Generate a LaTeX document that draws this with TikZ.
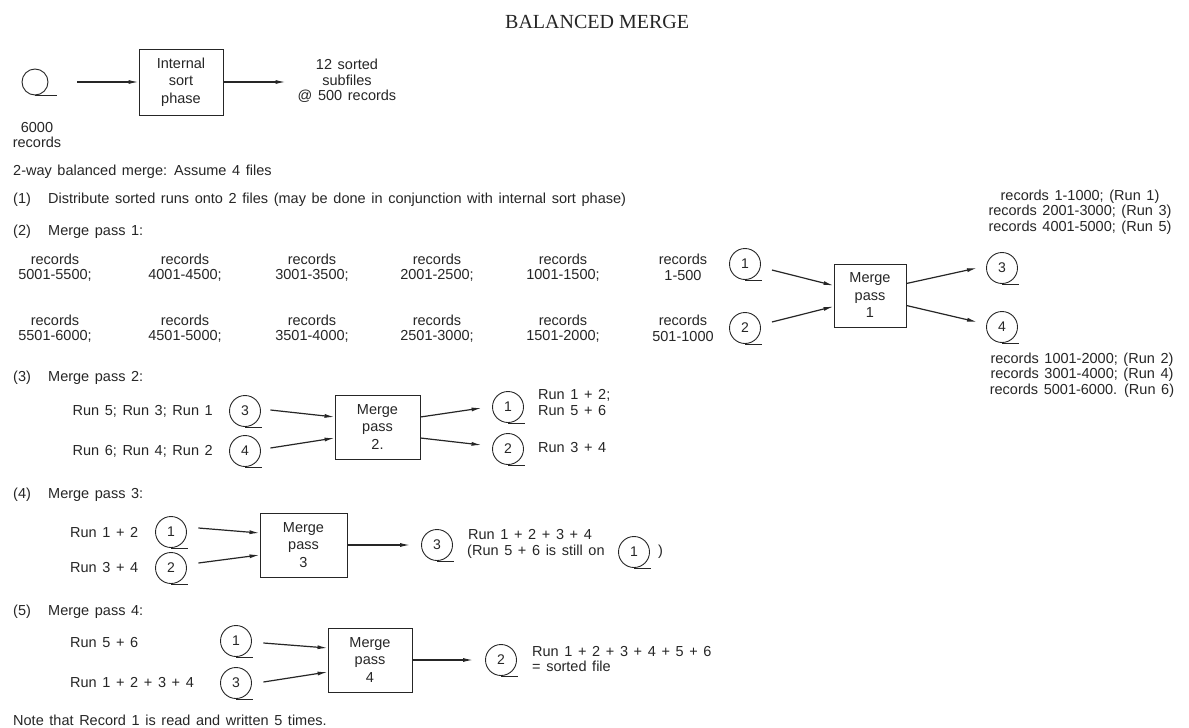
\documentclass[tikz,border=0pt]{standalone}
\usepackage{fontspec}
\setmainfont[WordSpace=1.4]{Liberation Sans}
\newfontfamily\titlefont{Liberation Serif}
\usetikzlibrary{arrows.meta}
\definecolor{ink}{gray}{0.15}
\tikzset{
  txt/.style={font=\fontsize{14.5}{15.5}\selectfont, inner sep=0pt, text=ink},
  mtxt/.style={txt, align=center},
  ltxt/.style={txt, align=left},
  reel/.style={circle, draw=ink, line width=0.9pt, minimum size=31pt, inner sep=0pt,
               font=\fontsize{14}{16}\selectfont, text=ink},
  proc/.style={draw=ink, line width=0.9pt, align=center, inner sep=0pt, text=ink,
               font=\fontsize{14.5}{17.5}\selectfont},
  flow/.style={draw=ink, line width=1.2pt, -{Latex[length=10pt,width=4pt]}},
  tail/.style={draw=ink, line width=0.9pt},
}
\newcommand{\reeltail}[1]{\draw[tail] (#1.south) -- ++(17,0);}
\begin{document}
\begin{tikzpicture}[x=1pt,y=-1pt]
\useasboundingbox (0,0) rectangle (1189,728);
\fill[white] (0,0) rectangle (1189,728);

% title
\node[anchor=west, inner sep=0pt, text=ink, font=\titlefont\fontsize{20}{22}\selectfont] (title) at (505,22) {BALANCED MERGE};

% ---------- internal sort phase ----------
\node[reel, minimum size=26pt] (r0) at (35,82) {};
\draw[tail] (r0.south) -- ++(22,0);
\node[mtxt] (n6000) at (37,135) {6000\\records};
\node[proc, minimum width=84pt, minimum height=66pt] (b0) at (181,82) {Internal\\sort\\phase};
\node[mtxt] (sub) at (347,81) {12 sorted\\subfiles\\@ 500 records};
\draw[flow] ([xshift=29pt]r0.east) -- (b0.west);
\draw[flow] (b0.east) -- ([xshift=-12pt]sub.west |- b0.east);

\node[txt, anchor=west] (intro) at (13,172) {2-way balanced merge: Assume 4 files};
\node[txt, anchor=west] (h1) at (13,200) {(1)};
\node[txt, anchor=west] (h1t) at (48,200) {Distribute sorted runs onto 2 files (may be done in conjunction with internal sort phase)};
\node[txt, anchor=west] (h2) at (13,232) {(2)};
\node[txt, anchor=west] (h2t) at (48,232) {Merge pass 1:};

% ---------- merge pass 1 ----------
\node[mtxt] (c1a) at (55,267.5) {records\\5001-5500;};
\node[mtxt] (c2a) at (185,267.5) {records\\4001-4500;};
\node[mtxt] (c3a) at (312,267.5) {records\\3001-3500;};
\node[mtxt] (c4a) at (437,267.5) {records\\2001-2500;};
\node[mtxt] (c5a) at (563,267.5) {records\\1001-1500;};
\node[mtxt] (c6a) at (683,267.5) {records\\1-500};
\node[mtxt] (c1b) at (55,328.5) {records\\5501-6000;};
\node[mtxt] (c2b) at (185,328.5) {records\\4501-5000;};
\node[mtxt] (c3b) at (312,328.5) {records\\3501-4000;};
\node[mtxt] (c4b) at (437,328.5) {records\\2501-3000;};
\node[mtxt] (c5b) at (563,328.5) {records\\1501-2000;};
\node[mtxt] (c6b) at (683,328.5) {records\\501-1000};

\node[reel] (r1) at (745,264) {1}; \reeltail{r1}
\node[reel] (r2) at (745,328) {2}; \reeltail{r2}
\node[proc, minimum width=72pt, minimum height=63pt] (p1) at (870,295.5) {Merge\\pass\\1};
\node[reel] (r3) at (1002,268) {3}; \reeltail{r3}
\node[reel] (r4) at (1002,327) {4}; \reeltail{r4}
\draw[flow] ([xshift=11pt,yshift=-6pt]r1.east) -- ([yshift=10pt]p1.west);
\draw[flow] ([xshift=11pt,yshift=6pt]r2.east) -- ([yshift=-11pt]p1.west);
\draw[flow] ([yshift=12pt]p1.east) -- ([xshift=-9pt]r3.west);
\draw[flow] ([yshift=-10pt]p1.east) -- ([xshift=-9pt,yshift=5pt]r4.west);
\node[mtxt] (o3) at (1080,212) {records 1-1000; (Run 1)\\records 2001-3000; (Run 3)\\records 4001-5000; (Run 5)};
\node[mtxt] (o4) at (1082,375) {records 1001-2000; (Run 2)\\records 3001-4000; (Run 4)\\records 5001-6000. (Run 6)};

% ---------- merge pass 2 ----------
\node[txt, anchor=west] (h3) at (13,378) {(3)};
\node[txt, anchor=west] (h3t) at (48,378) {Merge pass 2:};
\node[txt, anchor=east] (i3) at (213,411) {Run 5; Run 3; Run 1};
\node[txt, anchor=east] (i4) at (213,451) {Run 6; Run 4; Run 2};
\node[reel] (q3) at (245,411) {3}; \reeltail{q3}
\node[reel] (q4) at (245,451) {4}; \reeltail{q4}
\node[proc, minimum width=85pt, minimum height=64pt] (p2) at (377.5,427) {Merge\\pass\\2.};
\node[reel] (q1) at (508,407) {1}; \reeltail{q1}
\node[reel] (q2) at (508,449) {2}; \reeltail{q2}
\draw[flow] ([xshift=9.5pt,yshift=1pt]q3.east) -- ([yshift=10pt]p2.west);
\draw[flow] ([xshift=9.5pt,yshift=3pt]q4.east) -- ([yshift=-11pt]p2.west);
\draw[flow] ([yshift=10pt]p2.east) -- ([xshift=-10.5pt,yshift=-1pt]q1.west);
\draw[flow] ([yshift=-11pt]p2.east) -- ([xshift=-10.5pt,yshift=4pt]q2.west);
\node[ltxt, anchor=west] (u1) at (538,402.5) {Run 1 + 2;\\Run 5 + 6};
\node[txt, anchor=west] (u2) at (538,448) {Run 3 + 4};

% ---------- merge pass 3 ----------
\node[txt, anchor=west] (h4) at (13,495) {(4)};
\node[txt, anchor=west] (h4t) at (48,495) {Merge pass 3:};
\node[txt, anchor=west] (j1) at (70,533) {Run 1 + 2};
\node[txt, anchor=west] (j2) at (70,568) {Run 3 + 4};
\node[reel] (s1) at (171,532) {1}; \reeltail{s1}
\node[reel] (s2) at (171,568) {2}; \reeltail{s2}
\node[proc, minimum width=87pt, minimum height=64pt] (p3) at (303.5,545) {Merge\\pass\\3};
\node[reel] (s3) at (437,545) {3}; \reeltail{s3}
\draw[flow] ([xshift=11.5pt,yshift=4pt]s1.east) -- ([yshift=12pt]p3.west);
\draw[flow] ([xshift=11.5pt,yshift=5pt]s2.east) -- ([yshift=-10pt]p3.west);
\draw[flow] (p3.east) -- ([xshift=-11pt]s3.west);
\node[txt, anchor=west] (k1) at (468,535) {Run 1 + 2 + 3 + 4};
\node[txt, anchor=west] (k2) at (467,552) {(Run 5 + 6 is still on};
\node[reel] (s4) at (634,552) {1}; \reeltail{s4}
\node[txt, anchor=west] (k3) at (658,552) {)};

% ---------- merge pass 4 ----------
\node[txt, anchor=west] (h5) at (13,612) {(5)};
\node[txt, anchor=west] (h5t) at (48,612) {Merge pass 4:};
\node[txt, anchor=west] (m1) at (70,643) {Run 5 + 6};
\node[txt, anchor=west] (m2) at (70,683) {Run 1 + 2 + 3 + 4};
\node[reel] (t1) at (236,641) {1}; \reeltail{t1}
\node[reel] (t3) at (236,683) {3}; \reeltail{t3}
\node[proc, minimum width=84pt, minimum height=64pt] (p4) at (370,660) {Merge\\pass\\4};
\node[reel] (t2) at (501,660) {2}; \reeltail{t2}
\draw[flow] ([xshift=11.5pt,yshift=-2pt]t1.east) -- ([yshift=12pt]p4.west);
\draw[flow] ([xshift=11.5pt,yshift=1pt]t3.east) -- ([yshift=-12pt]p4.west);
\draw[flow] (p4.east) -- ([xshift=-12pt]t2.west);
\node[ltxt, anchor=west] (m3) at (532,659) {Run 1 + 2 + 3 + 4 + 5 + 6\\= sorted file};

\node[txt, anchor=west] (note) at (13,720) {Note that Record 1 is read and written 5 times.};
\end{tikzpicture}
\end{document}
